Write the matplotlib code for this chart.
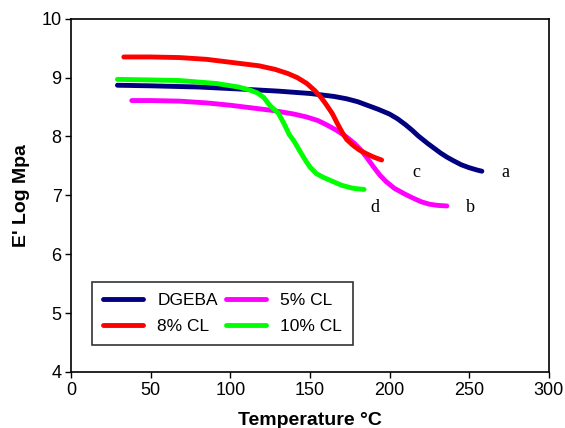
import matplotlib
matplotlib.use("Agg")
import matplotlib.pyplot as plt

plt.rcParams['font.family'] = ['Liberation Sans', 'DejaVu Sans']

# Data (temperature °C, E' log MPa)
dgeba_x = [29, 50, 80, 110, 130, 150, 165, 173, 180, 186, 193, 200, 205, 210, 214, 218, 224, 228, 232, 236, 240, 245, 250, 255, 258]
dgeba_y = [8.87, 8.86, 8.84, 8.80, 8.77, 8.73, 8.68, 8.64, 8.59, 8.53, 8.46, 8.38, 8.30, 8.20, 8.11, 8.01, 7.88, 7.80, 7.72, 7.65, 7.59, 7.52, 7.47, 7.43, 7.41]

cl8_x = [33, 50, 68, 85, 100, 118, 128, 136, 142, 148, 153, 157, 160, 164, 167, 170, 173, 177, 181, 186, 190, 195]
cl8_y = [9.35, 9.35, 9.34, 9.31, 9.26, 9.20, 9.14, 9.07, 9.00, 8.90, 8.78, 8.66, 8.55, 8.39, 8.23, 8.08, 7.95, 7.85, 7.77, 7.70, 7.65, 7.60]

cl10_x = [29, 50, 68, 91, 105, 112, 117, 121, 125, 130, 134, 137, 140, 143, 147, 150, 154, 158, 164, 170, 177, 184]
cl10_y = [8.97, 8.96, 8.95, 8.90, 8.84, 8.79, 8.74, 8.66, 8.52, 8.40, 8.20, 8.03, 7.92, 7.78, 7.60, 7.48, 7.37, 7.31, 7.24, 7.17, 7.12, 7.10]

cl5_x = [38, 50, 68, 85, 100, 115, 127, 140, 148, 155, 161, 167, 173, 178, 182, 186, 190, 194, 198, 203, 209, 215, 220, 225, 230, 236]
cl5_y = [8.61, 8.61, 8.60, 8.57, 8.53, 8.48, 8.44, 8.38, 8.33, 8.27, 8.19, 8.10, 7.99, 7.88, 7.77, 7.63, 7.48, 7.34, 7.23, 7.12, 7.03, 6.95, 6.89, 6.85, 6.83, 6.82]

series_names = ["DGEBA", "5% CL", "8% CL", "10% CL"]
series_colors = ["#000080", "#FF00FF", "#FF0000", "#00FF00"]

curve_labels = ["a", "b", "c", "d"]
curve_label_x = [273, 251, 217, 191]
curve_label_y = [7.39, 6.79, 7.39, 6.79]

xticks = [0, 50, 100, 150, 200, 250, 300]
yticks = [4, 5, 6, 7, 8, 9, 10]

fig = plt.figure(figsize=(5.65, 4.28), dpi=100)
ax = fig.add_axes([71.3/565, 1 - 372/428, (548.7 - 71.3)/565, (372 - 18.7)/428])

lw = 3.5
l_dg, = ax.plot(dgeba_x, dgeba_y, color=series_colors[0], lw=lw, solid_capstyle='round', solid_joinstyle='round')
l_5, = ax.plot(cl5_x, cl5_y, color=series_colors[1], lw=lw, solid_capstyle='round', solid_joinstyle='round')
l_8, = ax.plot(cl8_x, cl8_y, color=series_colors[2], lw=lw, solid_capstyle='round', solid_joinstyle='round')
l_10, = ax.plot(cl10_x, cl10_y, color=series_colors[3], lw=lw, solid_capstyle='round', solid_joinstyle='round')

for t, x, y in zip(curve_labels, curve_label_x, curve_label_y):
    ax.text(x, y, t, fontsize=13, family=['Liberation Serif', 'DejaVu Serif'],
            ha='center', va='center')

ax.set_xlim(0, 300)
ax.set_ylim(4, 10)
ax.set_xticks(xticks)
ax.set_yticks(yticks)
ax.tick_params(direction='out', length=4, width=1, labelsize=13, colors='black', pad=3)
for s in ax.spines.values():
    s.set_linewidth(1.2)

ax.set_ylabel("E' Log Mpa", fontsize=14, fontweight='bold', labelpad=8)
ax.set_xlabel("Temperature °C", fontsize=14, fontweight='bold', labelpad=9.5)

leg = ax.legend([l_dg, l_8, l_5, l_10], ["DGEBA", "8% CL", "5% CL", "10% CL"],
                ncol=2, loc='upper left', bbox_to_anchor=(0.0435, 0.2555, 0.547, 0.0),
                mode='expand', frameon=True, fancybox=False, edgecolor='black',
                fontsize=12.5, handlelength=2.3, borderaxespad=0, columnspacing=0.8,
                handletextpad=0.8, labelspacing=0.6, borderpad=0.65)
leg.get_frame().set_linewidth(1.2)

fig.savefig("out.png", dpi=100)
